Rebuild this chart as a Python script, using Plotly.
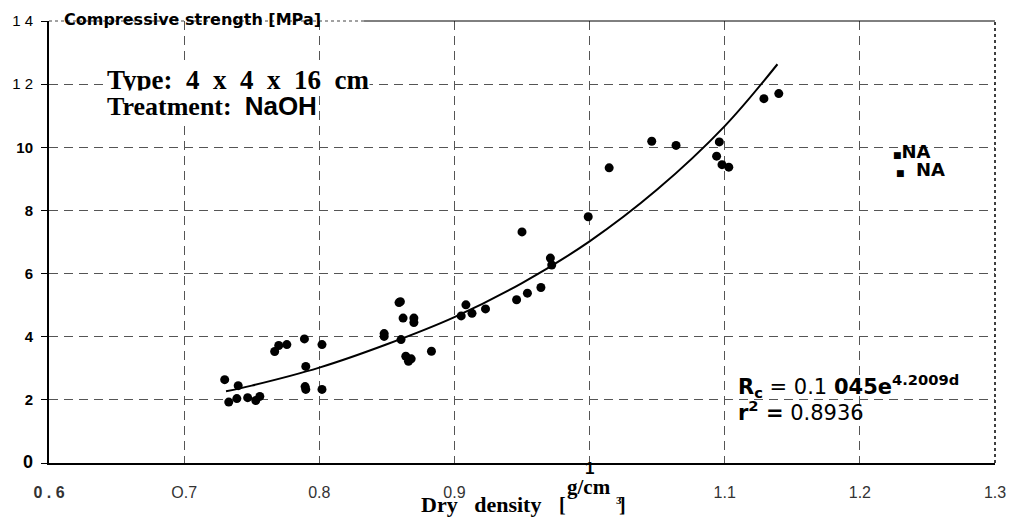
import plotly.graph_objects as go

# ---- data ----
density = [0.730, 0.733, 0.740, 0.739, 0.747, 0.753, 0.756, 0.767, 0.770, 0.776,
           0.789, 0.790, 0.7895, 0.790, 0.802, 0.802, 0.848, 0.848, 0.859, 0.860,
           0.862, 0.870, 0.870, 0.8605, 0.864, 0.868, 0.866, 0.883, 0.905, 0.9085,
           0.913, 0.923, 0.946, 0.954, 0.964, 0.971, 0.972, 0.950, 0.999, 1.0145,
           1.046, 1.064, 1.096, 1.094, 1.098, 1.103, 1.129, 1.140]
strength = [2.64, 1.93, 2.45, 2.04, 2.07, 1.98, 2.11, 3.53, 3.72, 3.75,
            3.93, 3.06, 2.42, 2.33, 3.75, 2.33, 4.10, 4.01, 5.08, 5.11,
            4.59, 4.59, 4.45, 3.91, 3.38, 3.30, 3.22, 3.54, 4.66, 5.01,
            4.74, 4.88, 5.17, 5.38, 5.56, 6.49, 6.27, 7.32, 7.80, 9.35,
            10.19, 10.06, 10.17, 9.72, 9.45, 9.37, 11.54, 11.70]

# trend line (Rc = 0.1045 e^(4.2009 d))
fit_x = [0.731, 0.75, 0.80, 0.85, 0.90, 0.95, 1.00, 1.05, 1.10, 1.139]
fit_y = [2.27, 2.45, 3.02, 3.76, 4.62, 5.70, 7.02, 8.66, 10.67, 12.63]

x_tickvals = [0.6, 0.7, 0.8, 0.9, 1.0, 1.1, 1.2, 1.3]
x_ticktext = ["<b>0 . 6</b>", "O.7", "0.8", "0.9", "", "1.1", "1.2", "1.3"]
y_tickvals = [0, 2, 4, 6, 8, 10, 12, 14]
y_ticktext = ["<span style='font-size:18px'><b>0</b></span>", "<b>2</b>", "<b>4</b>",
              "<b>6</b>", "<b>8</b>", "<b>10</b>", "1 2", "1 4"]

fig = go.Figure()
fig.add_trace(go.Scatter(x=fit_x, y=fit_y, mode="lines", line=dict(color="black", width=2, shape="spline"),
                         showlegend=False, hoverinfo="skip"))
fig.add_trace(go.Scatter(x=density, y=strength, mode="markers",
                         marker=dict(color="black", size=9, symbol="circle"), showlegend=False))

grid = dict(showgrid=True, gridcolor="#555", gridwidth=1, griddash="9px,6px")
fig.update_xaxes(range=[0.6, 1.3], tickvals=x_tickvals, ticktext=x_ticktext, zeroline=False,
                 showline=True, linecolor="black", linewidth=1.5, ticks="",
                 tickfont=dict(family="Liberation Sans, Arial, sans-serif", size=16, color="#333"),
                 ticklabelstandoff=14, **grid)
fig.update_yaxes(range=[0, 14], tickvals=y_tickvals, ticktext=y_ticktext, zeroline=False,
                 showline=True, linecolor="black", linewidth=2, ticks="outside", ticklen=6,
                 tickcolor="black", ticklabelstandoff=5,
                 tickfont=dict(family="Liberation Sans, Arial, sans-serif", size=15, color="black"),
                 **grid)

def ann(text, x, y, size, family, xanchor="left", yanchor="middle", bg=None, color="black", xref="paper"):
    fig.add_annotation(text=text, x=x, y=y, xref=xref, yref="paper", showarrow=False,
                       xanchor=xanchor, yanchor=yanchor, font=dict(size=size, family=family, color=color),
                       bgcolor=bg, borderpad=0)

serif = "Liberation Serif, Times New Roman, serif"
sans = "Liberation Sans, Arial, sans-serif"
dv = "DejaVu Sans, sans-serif"

ann("<b>Compressive strength [MPa]</b>", 0.0148, 1.003, 16, dv)
ann("<b>Type:  4  x  4  x  16  cm</b>", 0.0601, 0.866, 27, serif, bg="white")
ann("<b>Treatment:  <span style='font-family:Liberation Sans'>NaOH</span></b>", 0.0601, 0.807, 26, serif, bg="white")
ann("<span style='font-size:9px'>■</span><b>NA</b>", 0.8915, 0.705, 18, dv)
ann("<span style='font-size:9px'>■</span>  <b>NA</b>", 0.8946, 0.665, 18, dv)

# white box behind equation (hides grid)
fig.add_shape(type="rect", xref="paper", yref="paper", x0=0.7176, x1=0.949, y0=0.069, y1=0.22,
              fillcolor="white", line=dict(width=0), layer="between")
ann("<b>R<sub>c</sub></b> = 0.1 <b>045e<sup>4.2009d</sup></b>", 0.727, 0.175, 21, dv)
ann("<b>r<sup>2</sup> =</b> 0.8936", 0.727, 0.118, 21, dv)

# tick "1" sits right under the axis
ann("<b>1</b>", 1.0, -0.012, 17, sans, xanchor="center", xref="x")

# x axis title pieces
ann("<b>Dry   density</b>", 0.392, -0.095, 22, serif)
ann("<b>[</b>", 0.5385, -0.095, 20, serif)
ann("<b>g/cm</b>", 0.546, -0.055, 21, serif)
ann("<b>3</b>", 0.5985, -0.084, 11, serif)
ann("<b>]</b>", 0.602, -0.095, 20, serif)

# frame: top and right borders
fig.add_shape(type="line", xref="paper", yref="paper", x0=0, x1=0.333, y0=1, y1=1,
              line=dict(color="#444", width=1, dash="dot"))
fig.add_shape(type="line", xref="paper", yref="paper", x0=0.333, x1=1, y0=1, y1=1,
              line=dict(color="black", width=1))
fig.add_shape(type="line", xref="paper", yref="paper", x0=1, x1=1, y0=0, y1=1,
              line=dict(color="black", width=1.5, dash="dot"))

fig.update_layout(width=1018, height=518, margin=dict(l=49, r=20, t=19, b=55),
                  plot_bgcolor="white", paper_bgcolor="white", showlegend=False)
fig.write_html("out.html")
